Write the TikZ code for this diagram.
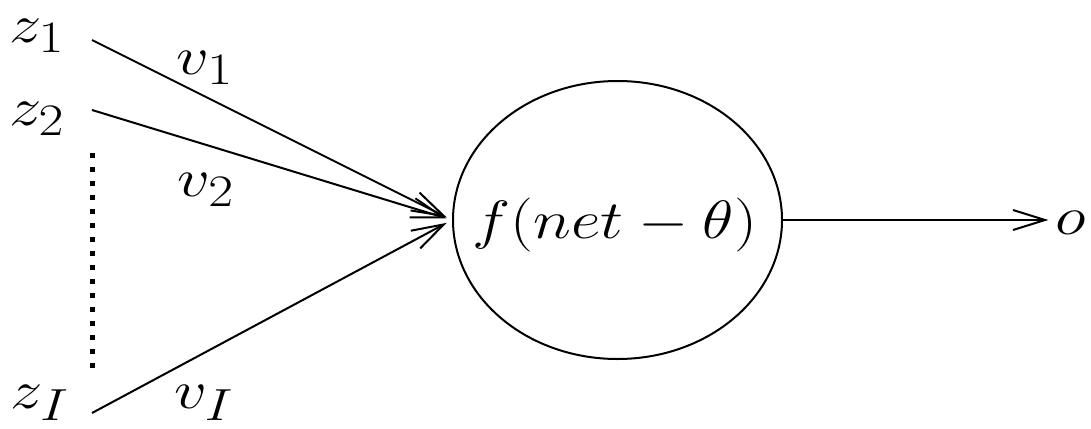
\documentclass[tikz,border=0pt]{standalone}
\usepackage{graphicx}
\usetikzlibrary{shapes.geometric,arrows.meta}
\newcommand{\hstretch}[1]{\scalebox{1.3}[1.085]{#1}}
\tikzset{
  lab/.style={inner sep=0pt, font=\fontsize{24.88}{30}\selectfont},
  conn/.style={line width=1pt, -{Straight Barb[length=16pt,width=10pt,line width=1pt]}},
  neuron/.style={ellipse, draw, line width=1pt, minimum width=164.5pt, minimum height=139pt, inner sep=0pt},
  vdots/.style={line width=2.5pt, dash pattern=on 2.5pt off 4.5pt}
}
\begin{document}
\begin{tikzpicture}[x=0.5pt,y=-0.5pt]
\useasboundingbox (0,0) rectangle (1091,428);
% input labels
\node[lab] (z1) at (37,36) {\hstretch{$z_1$}};
\node[lab] (z2) at (37,119) {\hstretch{$z_2$}};
\node[lab] (zI) at (40,403) {\hstretch{$z_I$}};
% weight labels
\node[lab] (v1) at (205,68) {\hstretch{$v_1$}};
\node[lab] (v2) at (206,190) {\hstretch{$v_2$}};
\node[lab] (vI) at (204,403) {\hstretch{$v_I$}};
% line starts
\coordinate (s1) at (92,40);
\coordinate (s2) at (92,110);
\coordinate (sI) at (92,413);
% neuron
\node[neuron] (n) at (617.5,220) {};
\node[lab] (fn) at (615,225) {\hstretch{$f(net-\theta)$}};
% output
\node[lab] (o) at (1071,223) {\hstretch{$o$}};
% connectors
\draw[conn, shorten >=3pt] (s1) -- (n.west);
\draw[conn, shorten >=3pt] (s2) -- (n.west);
\draw[conn, shorten >=3pt] (sI) -- (n.west);
\draw[conn] (n.east) -- ([xshift=-3.5pt]o.west |- n.east);
% dotted line
\coordinate (d1) at (92,153);
\coordinate (d2) at (92,374);
\draw[vdots] (d1) -- (d2);
\end{tikzpicture}
\end{document}
